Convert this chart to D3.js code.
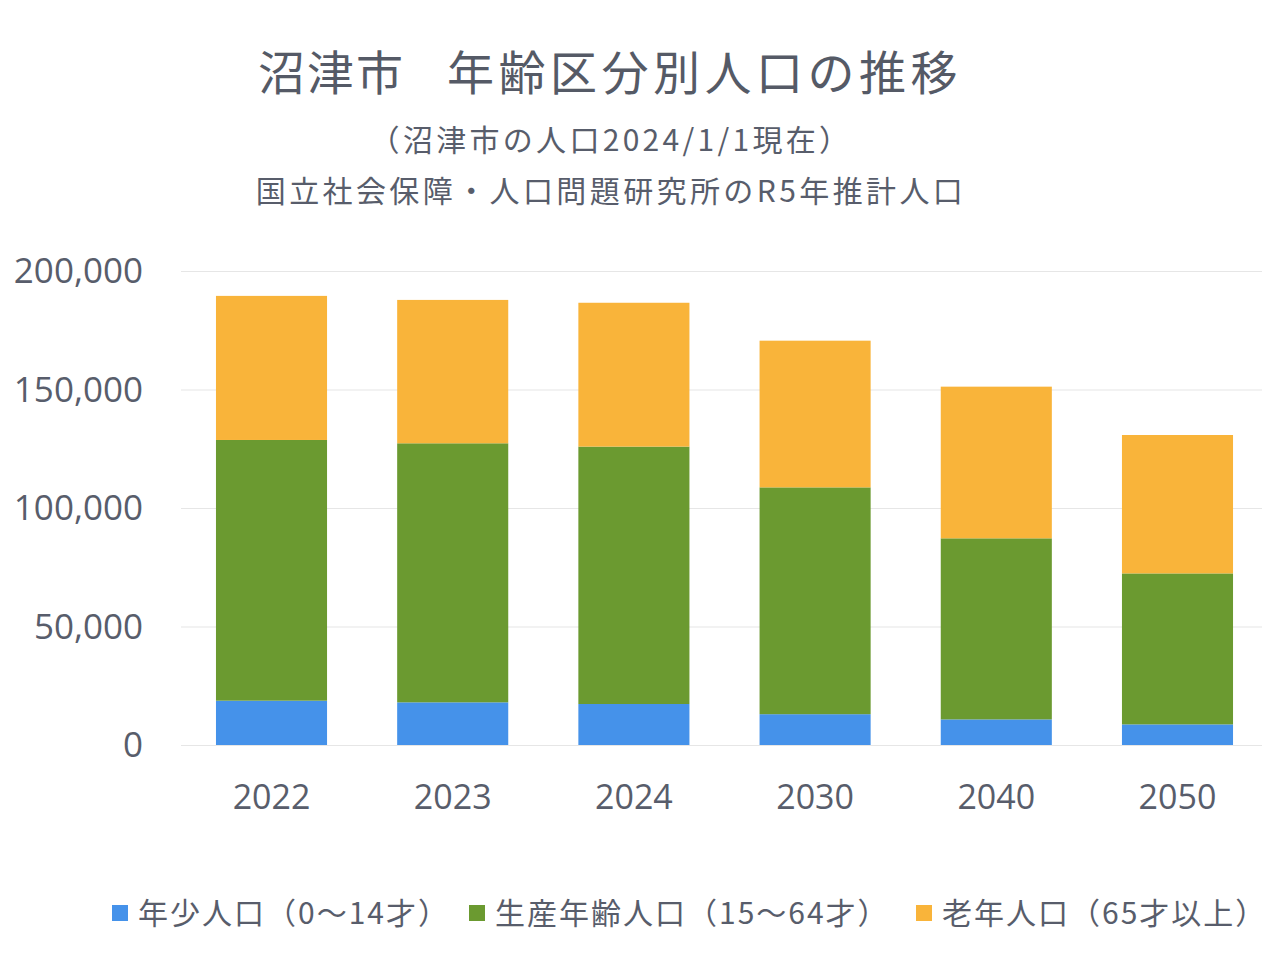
<!DOCTYPE html>
<html>
<head>
<meta charset="utf-8">
<script src="https://cdn.jsdelivr.net/npm/d3@7"></script>
<style>
  html, body { margin: 0; padding: 0; background: #ffffff; }
  svg { display: block; }
</style>
</head>
<body>
<svg id="chart" width="1280" height="959"></svg>
<script>
const categories = ["2022", "2023", "2024", "2030", "2040", "2050"];
const youngPop   = [18700, 18000, 17300, 13000, 10800, 8700];
const workingPop = [110000, 109300, 108600, 95700, 76400, 63700];
const elderlyPop = [60800, 60500, 60700, 61900, 64000, 58400];
const seriesNames = ["年少人口（0～14才）", "生産年齢人口（15～64才）", "老年人口（65才以上）"];
const seriesColors = ["#4592ea", "#6b9a30", "#f9b43a"];
const yTicks = [0, 50000, 100000, 150000, 200000];
const titleLeft = "沼津市";
const titleRight = "年齢区分別人口の推移";
const subtitle1 = "（沼津市の人口2024/1/1現在）";
const subtitle2 = "国立社会保障・人口問題研究所のR5年推計人口";

const svg = d3.select("#chart");
const textColor = "#585d6b";
const jp = "'Noto Sans CJK JP', 'Noto Sans', sans-serif";
const num = "'Open Sans', 'Noto Sans', sans-serif";

const rows = categories.map((c, i) => ({ cat: c, young: youngPop[i], working: workingPop[i], elderly: elderlyPop[i] }));
const keys = ["young", "working", "elderly"];
const stacked = d3.stack().keys(keys)(rows);

const x = d3.scaleBand().domain(categories).range([181, 1268]).paddingInner(0.387).paddingOuter(0.193);
const y = d3.scaleLinear().domain([0, 200000]).range([745, 271]);

// Title
svg.append("text").attr("x", 258).attr("y", 90)
  .attr("font-family", jp).attr("font-size", 47).attr("font-weight", 400)
  .attr("letter-spacing", 2).attr("fill", "#555a66").text(titleLeft);
svg.append("text").attr("x", 447).attr("y", 90)
  .attr("font-family", jp).attr("font-size", 47).attr("font-weight", 400)
  .attr("letter-spacing", 4.5).attr("fill", "#555a66").text(titleRight);
svg.append("text").attr("x", 611).attr("y", 151).attr("text-anchor", "middle")
  .attr("font-family", jp).attr("font-size", 30).attr("letter-spacing", 3.3).attr("fill", textColor).text(subtitle1);
svg.append("text").attr("x", 611).attr("y", 202).attr("text-anchor", "middle")
  .attr("font-family", jp).attr("font-size", 30).attr("letter-spacing", 3.4).attr("fill", textColor).text(subtitle2);

// Gridlines
const yAxis = d3.axisLeft(y).tickValues(yTicks).tickSize(-(1262 - 181)).tickFormat(d3.format(","));
const gy = svg.append("g").attr("transform", "translate(181,0)").call(yAxis);
gy.select(".domain").remove();
gy.selectAll(".tick line").attr("stroke", "#e6e6e6").attr("stroke-width", 1.2);
gy.selectAll(".tick text").attr("x", -38).attr("fill", textColor)
  .attr("font-family", num).attr("font-size", 35).attr("dy", "0.34em");

// Bars
svg.append("g").selectAll("g").data(stacked).join("g")
  .attr("fill", (d, i) => seriesColors[i])
  .selectAll("rect").data(d => d).join("rect")
  .attr("x", d => x(d.data.cat))
  .attr("width", x.bandwidth())
  .attr("y", d => y(d[1]))
  .attr("height", d => y(d[0]) - y(d[1]));

// X axis labels
const xAxis = d3.axisBottom(x).tickSize(0).tickPadding(0);
const gx = svg.append("g").attr("transform", "translate(0,745)").call(xAxis);
gx.select(".domain").remove();
gx.selectAll(".tick text").attr("y", 64).attr("dy", 0).attr("fill", textColor)
  .attr("font-family", num).attr("font-size", 34);

// Legend
const legendX = [112, 469, 916];
const lg = svg.append("g");
seriesNames.forEach((name, i) => {
  lg.append("rect").attr("x", legendX[i]).attr("y", 905).attr("width", 16).attr("height", 16).attr("fill", seriesColors[i]);
  lg.append("text").attr("x", legendX[i] + 26).attr("y", 924).attr("letter-spacing", 2)
    .attr("font-family", jp).attr("font-size", 30).attr("fill", textColor).text(name);
});
</script>
</body>
</html>
